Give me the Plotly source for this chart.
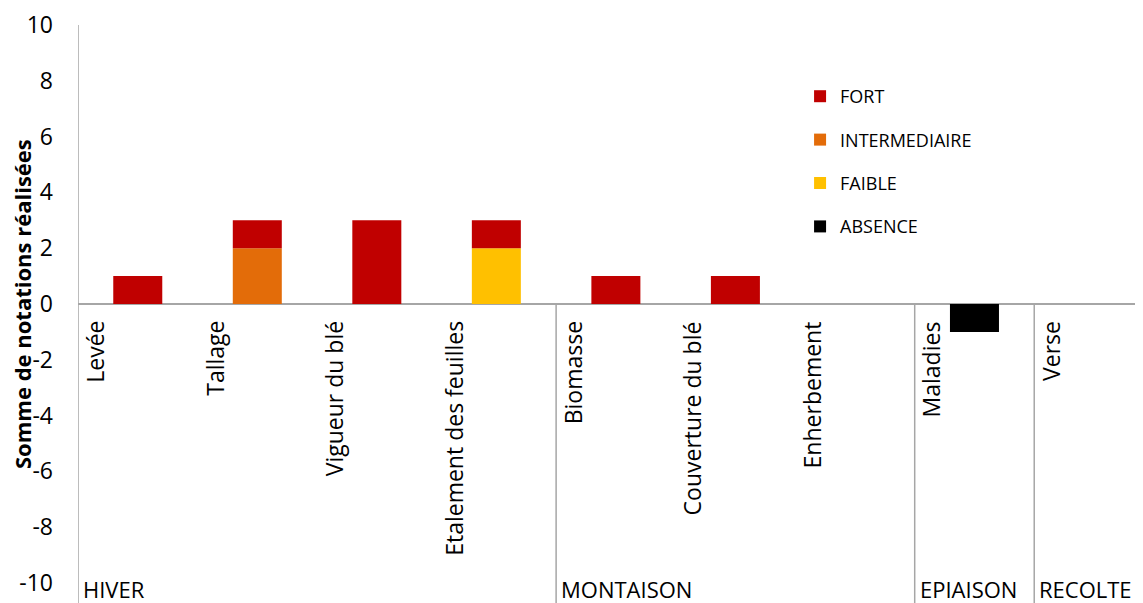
import plotly.graph_objects as go

# categories (stades / notations)
categories = ["Levée", "Tallage", "Vigueur du blé", "Etalement des feuilles",
              "Biomasse", "Couverture du blé", "Enherbement", "Maladies", "Verse"]
groups = ["HIVER", "MONTAISON", "EPIAISON", "RECOLTE"]
group_start = [0, 4, 7, 8]  # index of first category in each group

absence = [0, 0, 0, 0, 0, 0, 0, -1, 0]
faible = [0, 0, 0, 2, 0, 0, 0, 0, 0]
intermediaire = [0, 2, 0, 0, 0, 0, 0, 0, 0]
fort = [1, 1, 3, 1, 1, 1, 0, 0, 0]

ytick_vals = [-10, -8, -6, -4, -2, 0, 2, 4, 6, 8, 10]
ytick_text = ["-10", "-8", "-6", "-4", "-2", "0", "2", "4", "6", "8", "10"]

# (name, values, colour, legend rank)
series = [("ABSENCE", absence, "#000000", 4),
          ("FAIBLE", faible, "#FFC000", 3),
          ("INTERMEDIAIRE", intermediaire, "#E36C09", 2),
          ("FORT", fort, "#C00000", 1)]

xpos = list(range(len(categories)))
FONT = "Open Sans"

fig = go.Figure()
for name, vals, col, rank in series:
    fig.add_trace(go.Bar(
        x=xpos, y=vals, name=name, width=0.41, legendgroup=name, legendrank=rank,
        marker=dict(color=col, line=dict(width=0)),
    ))

# rotated category labels just under the zero line
for i, lab in enumerate(categories):
    fig.add_annotation(x=i - 0.36, y=0, xref="x", yref="y", text=lab,
                       textangle=-90, showarrow=False, xanchor="center", yanchor="top",
                       yshift=-15, font=dict(family=FONT, size=23, color="black"))

# group labels at the bottom + separators
grey = "#A6A6A6"
for g, s in zip(groups, group_start):
    fig.add_annotation(x=s - 0.5, y=-0.011, xref="x", yref="paper", text=g,
                       showarrow=False, xanchor="left", yanchor="middle", xshift=3,
                       font=dict(family=FONT, size=22, color="black"))
    if s > 0:
        fig.add_shape(type="line", xref="x", yref="paper", x0=s - 0.5, x1=s - 0.5,
                      y0=-0.05, y1=0.5, line=dict(color=grey, width=1.5))

# y axis line extending to the bottom
fig.add_shape(type="line", xref="x", yref="paper", x0=-0.5, x1=-0.5,
              y0=-0.05, y1=1, line=dict(color=grey, width=1.5))

# y axis title (overlaps tick labels as in the original)
fig.add_annotation(x=0, y=0.5, xref="paper", yref="paper", xshift=-56,
                   text="<b>Somme de notations réalisées</b>", textangle=-90,
                   showarrow=False, xanchor="center", yanchor="middle",
                   font=dict(family=FONT, size=22, color="black"))

fig.update_layout(
    width=1135, height=595,
    margin=dict(l=70, r=0, t=13, b=20),
    paper_bgcolor="white", plot_bgcolor="white",
    barmode="relative",
    font=dict(family=FONT, color="black"),
    showlegend=True,
    legend=dict(x=0.678, y=0.905, xanchor="left", yanchor="top",
                traceorder="grouped", tracegroupgap=17,
                font=dict(family=FONT, size=18, color="black"),
                bgcolor="rgba(0,0,0,0)", itemwidth=30),
)
fig.update_xaxes(range=[-0.5, 8.41], showticklabels=False, showgrid=False,
                 zeroline=False, showline=False, ticks="")
fig.update_yaxes(range=[-10, 10], tickvals=ytick_vals, ticktext=ytick_text,
                 showgrid=False, zeroline=True, ticklabeloverflow="allow",
                 zerolinecolor=grey, zerolinewidth=1.5, showline=False, ticks="",
                 ticklabelstandoff=24, tickfont=dict(family=FONT, size=23, color="black"))

fig.write_html("out.html")
